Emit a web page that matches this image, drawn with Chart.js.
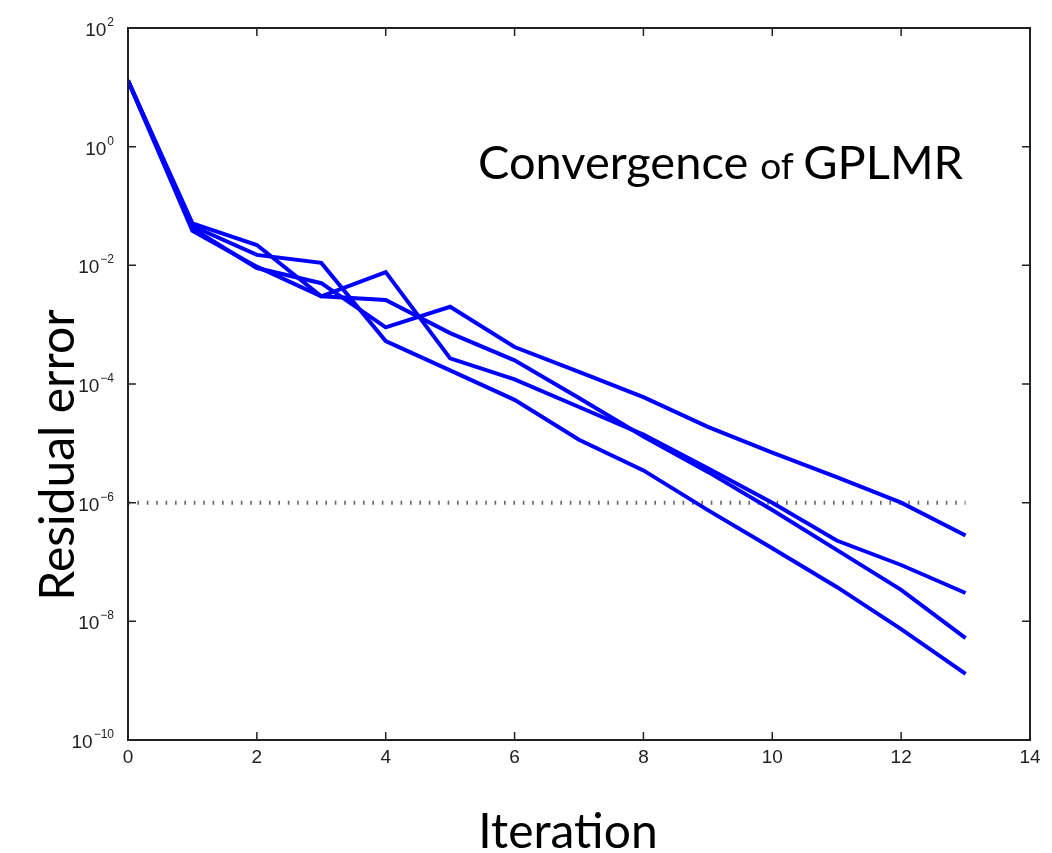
<!DOCTYPE html>
<html>
<head>
<meta charset="UTF-8">
<title>Convergence of GPLMR</title>
<script src="https://cdn.jsdelivr.net/npm/chart.js@4"></script>
<style>
  body { margin: 0; background: #fff; }
</style>
</head>
<body>
<canvas id="myChart" width="1052" height="853"></canvas>
<script>
// iteration numbers and residual error of the four runs
var iterations = [0, 1, 2, 3, 4, 5, 6, 7, 8, 9, 10, 11, 12, 13];
var run1 = [13, 0.042, 0.009, 0.005, 9e-4, 0.002, 4.2e-4, 1.6e-4, 6e-5, 1.9e-5, 7e-6, 2.7e-6, 1e-6, 2.8e-7];
var run2 = [13, 0.038, 0.0095, 0.003, 0.0077, 2.7e-4, 1.2e-4, 4.1e-5, 1.4e-5, 3.8e-6, 1e-6, 2.3e-7, 8.9e-8, 3e-8];
var run3 = [13, 0.051, 0.022, 0.003, 0.0026, 7.2e-4, 2.5e-4, 5.8e-5, 1.3e-5, 3.3e-6, 7.5e-7, 1.6e-7, 3.4e-8, 5.2e-9];
var run4 = [13, 0.046, 0.015, 0.011, 5.3e-4, 1.7e-4, 5.4e-5, 1.15e-5, 3.5e-6, 7.5e-7, 1.7e-7, 3.8e-8, 7.4e-9, 1.3e-9];
var tolerance = 1e-6;

var yTickValues = [1e-10, 1e-8, 1e-6, 1e-4, 1e-2, 1e0, 1e2];
var yTickExponents = ['\u221210', '\u22128', '\u22126', '\u22124', '\u22122', '0', '2'];

function points(values) {
    return iterations.map(function(it, i) { return {x: it, y: values[i]}; });
}

var tickFamily = "'Liberation Sans Narrow', 'Liberation Sans', sans-serif";
var tickFont = {family: tickFamily, size: 19};
var bigFont = "Lato, 'Open Sans', sans-serif";

// box with inward tick marks on all four sides, the power-of-ten labels and the texts
var frame = {
    id: 'frame',
    afterDraw: function(chart) {
        var ctx = chart.ctx, a = chart.chartArea;
        var x = chart.scales.x, y = chart.scales.y;
        ctx.save();
        ctx.strokeStyle = '#222';
        ctx.lineWidth = 2;
        ctx.strokeRect(a.left, a.top, a.right - a.left, a.bottom - a.top);
        ctx.lineWidth = 1.5;
        ctx.beginPath();
        x.ticks.forEach(function(t) {
            var px = x.getPixelForValue(t.value);
            ctx.moveTo(px, a.bottom); ctx.lineTo(px, a.bottom - 8);
            ctx.moveTo(px, a.top); ctx.lineTo(px, a.top + 8);
        });
        y.ticks.forEach(function(t) {
            var py = y.getPixelForValue(t.value);
            ctx.moveTo(a.left, py); ctx.lineTo(a.left + 8, py);
            ctx.moveTo(a.right, py); ctx.lineTo(a.right - 8, py);
        });
        ctx.stroke();

        // y tick labels: "10" with a raised exponent
        ctx.fillStyle = '#222';
        ctx.textBaseline = 'alphabetic';
        y.ticks.forEach(function(t, i) {
            var py = y.getPixelForValue(t.value);
            var right = a.left - 14;
            ctx.font = '12px ' + tickFamily;
            var ew = ctx.measureText(yTickExponents[i]).width;
            ctx.textAlign = 'right';
            ctx.fillText(yTickExponents[i], right, py - 2);
            ctx.font = '19px ' + tickFamily;
            ctx.fillText('10', right - ew - 1, py + 8);
        });

        ctx.fillStyle = '#000';
        ctx.textAlign = 'left';
        var tx = 478, ty = 179;
        ctx.font = '47px ' + bigFont;
        ctx.fillText('Convergence ', tx, ty);
        tx += ctx.measureText('Convergence ').width;
        ctx.font = '37px ' + bigFont;
        ctx.fillText('of ', tx, ty);
        tx += ctx.measureText('of ').width;
        ctx.font = '47px ' + bigFont;
        ctx.fillText('GPLMR', tx, ty);

        ctx.textAlign = 'center';
        ctx.font = '48px ' + bigFont;
        ctx.fillText('Iteration', 568, 848);

        ctx.translate(74, 455);
        ctx.rotate(-Math.PI / 2);
        ctx.fillText('Residual error', 0, 0);
        ctx.restore();
    }
};

var blue = 'rgb(0, 0, 255)';
function runSet(values) {
    return {data: points(values), borderColor: blue, borderWidth: 4, pointRadius: 0, fill: false, tension: 0};
}

var ctx = document.getElementById('myChart').getContext('2d');
var chart = new Chart(ctx, {
    type: 'line',
    data: {
        datasets: [
            runSet(run1), runSet(run2), runSet(run3), runSet(run4),
            {
                data: [{x: iterations[0], y: tolerance}, {x: iterations[iterations.length - 1], y: tolerance}],
                borderColor: '#666', borderWidth: 4, borderDash: [1.6, 7.8],
                pointRadius: 0, fill: false
            }
        ]
    },
    options: {
        responsive: false,
        animation: false,
        layout: {padding: {top: 28, right: 22, left: 0, bottom: 0}},
        plugins: {legend: {display: false}, tooltip: {enabled: false}},
        scales: {
            x: {
                type: 'linear', min: 0, max: 14,
                afterFit: function(s) { s.height = 113; },
                grid: {display: false}, border: {display: false},
                ticks: {stepSize: 2, font: tickFont, color: '#222', padding: -2, maxRotation: 0}
            },
            y: {
                type: 'logarithmic', min: 1e-10, max: 1e2,
                afterFit: function(s) { s.width = 128; },
                afterBuildTicks: function(s) {
                    s.ticks = yTickValues.map(function(v) { return {value: v}; });
                },
                grid: {display: false}, border: {display: false},
                ticks: {display: false, autoSkip: false}
            }
        }
    },
    plugins: [frame]
});
</script>
</body>
</html>
